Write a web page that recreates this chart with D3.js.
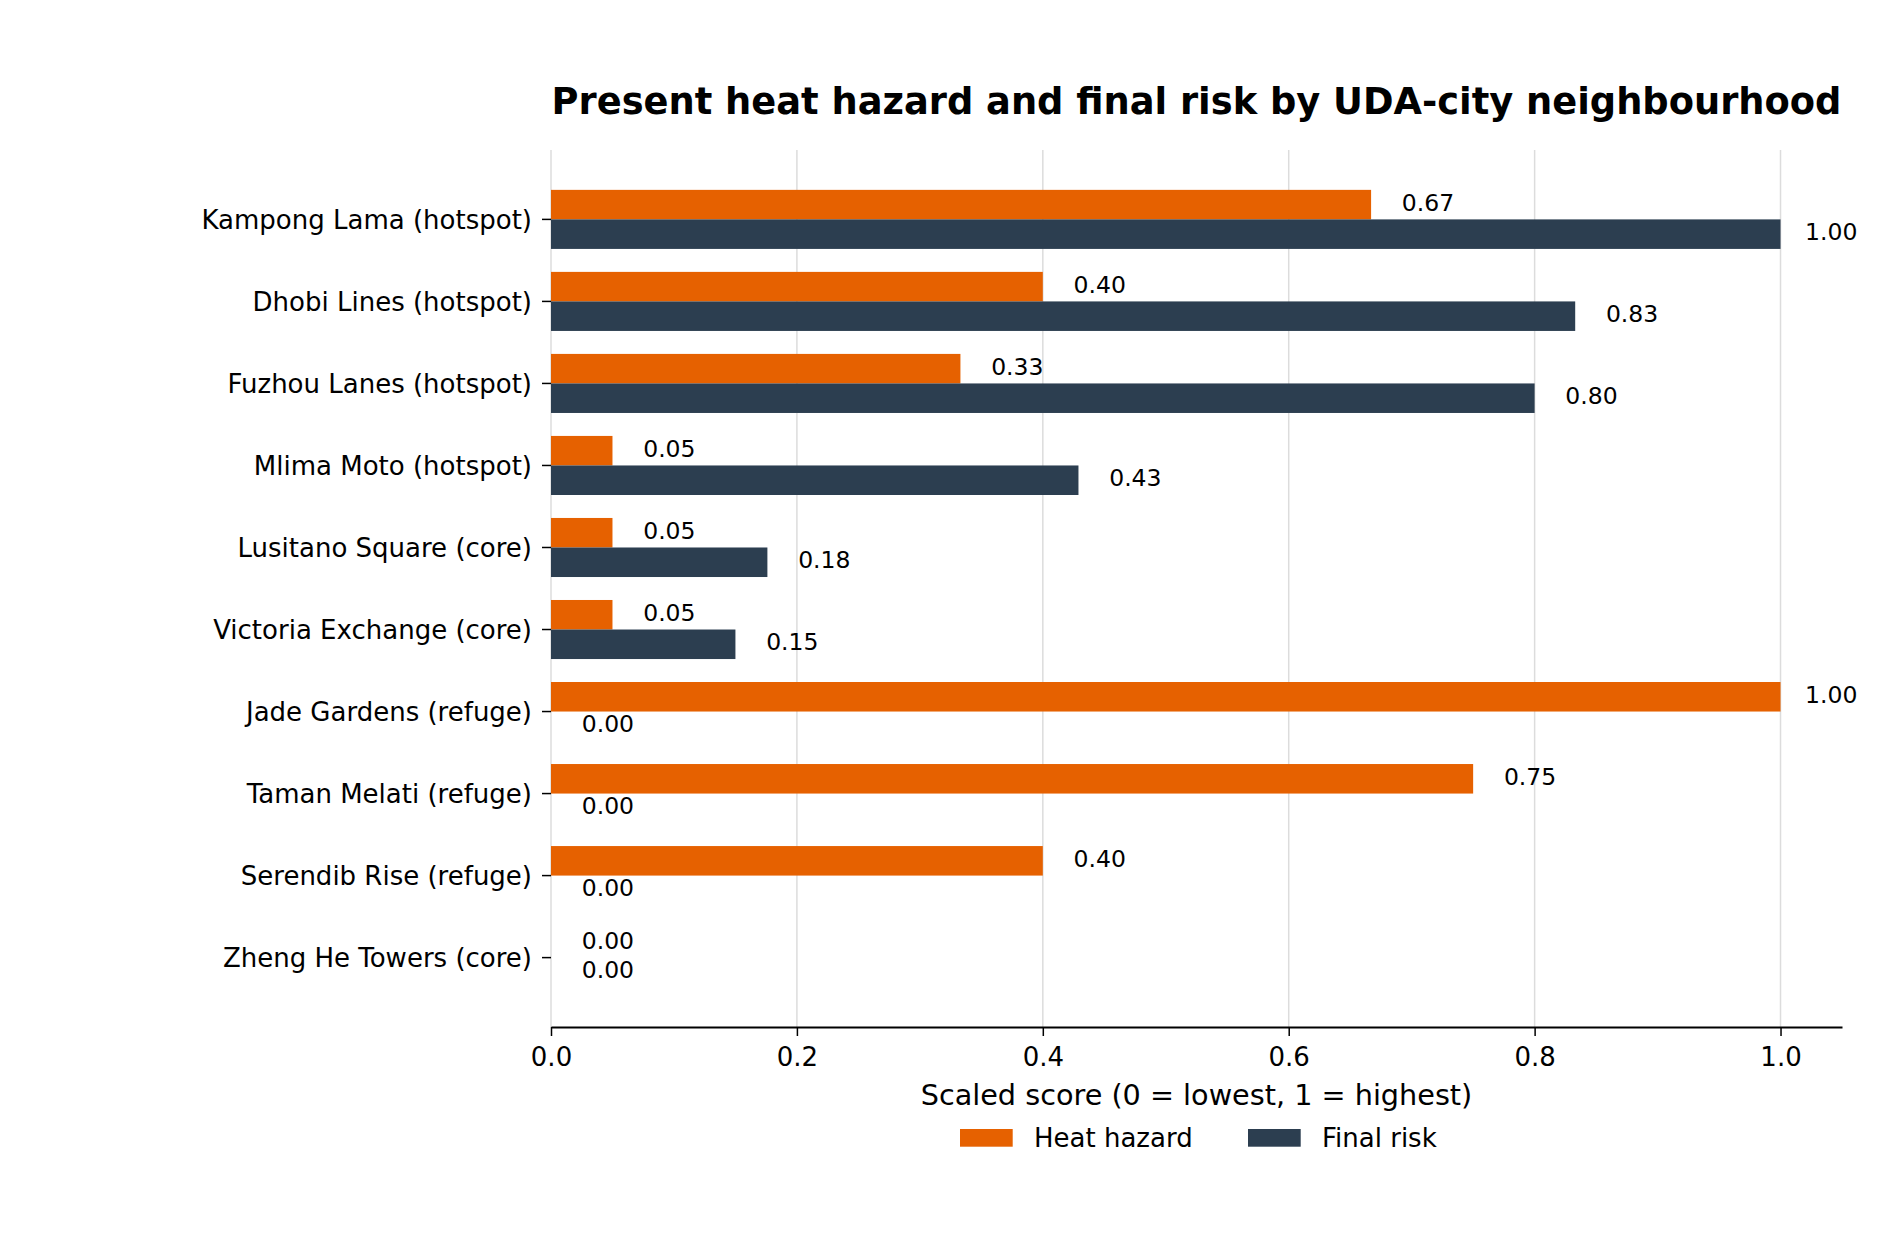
<!DOCTYPE html>
<html lang="en">
<head>
<meta charset="utf-8">
<title>Present heat hazard and final risk</title>
<script src="https://d3js.org/d3.v7.min.js"></script>
<style>
  body { margin: 0; background: #fff; }
  svg text { font-family: "DejaVu Sans", sans-serif; fill: #000; }
</style>
</head>
<body>
<div id="chart"></div>
<script>
// data
var neighbourhoods = [
  "Kampong Lama (hotspot)", "Dhobi Lines (hotspot)", "Fuzhou Lanes (hotspot)",
  "Mlima Moto (hotspot)", "Lusitano Square (core)", "Victoria Exchange (core)",
  "Jade Gardens (refuge)", "Taman Melati (refuge)", "Serendib Rise (refuge)",
  "Zheng He Towers (core)"
];
var heatHazard = [0.667, 0.40, 0.333, 0.05, 0.05, 0.05, 1.00, 0.75, 0.40, 0.00];
var finalRisk  = [1.00, 0.833, 0.80, 0.429, 0.176, 0.15, 0.00, 0.00, 0.00, 0.00];
var seriesNames = ["Heat hazard", "Final risk"];
var seriesColors = ["#e66100", "#2c3e50"];
var xTicks = [0, 0.2, 0.4, 0.6, 0.8, 1.0];

var W = 1900, H = 1254;
var margin = {top: 150, right: 58, bottom: 227, left: 551};
var width = W - margin.left - margin.right,
    height = H - margin.top - margin.bottom;

var svg = d3.select("#chart").append("svg")
    .attr("width", W).attr("height", H);

var g = svg.append("g")
    .attr("transform", "translate(" + margin.left + "," + margin.top + ")");

var x = d3.scaleLinear().domain([0, 1.05]).range([0, width]);
var y = d3.scaleBand().domain(neighbourhoods).range([0, height])
    .paddingInner(0.28).paddingOuter(0.486);
var ySub = d3.scaleBand().domain(seriesNames).range([0, y.bandwidth()]);

// gridlines
g.append("g").selectAll("line")
  .data(xTicks).enter().append("line")
    .attr("x1", function(d){ return x(d); })
    .attr("x2", function(d){ return x(d); })
    .attr("y1", 0).attr("y2", height)
    .attr("stroke", "#dcdcdc")
    .attr("stroke-width", 1.5);

// bars
var rows = neighbourhoods.map(function(n, i){
  return {name: n, values: [heatHazard[i], finalRisk[i]]};
});

var row = g.append("g").selectAll("g")
  .data(rows).enter().append("g")
    .attr("transform", function(d){ return "translate(0," + y(d.name) + ")"; });

row.selectAll("rect")
  .data(function(d){ return d.values.map(function(v, j){ return {s: seriesNames[j], v: v, c: seriesColors[j]}; }); })
  .enter().append("rect")
    .attr("x", x(0))
    .attr("y", function(d){ return ySub(d.s); })
    .attr("width", function(d){ return x(d.v) - x(0); })
    .attr("height", ySub.bandwidth())
    .attr("fill", function(d){ return d.c; });

// value labels, kept inside the axis range
row.selectAll("text")
  .data(function(d){ return d.values.map(function(v, j){ return {s: seriesNames[j], v: v}; }); })
  .enter().append("text")
    .attr("x", function(d){ return x(Math.min(d.v + 0.025, 1.02)); })
    .attr("y", function(d){ return ySub(d.s) + ySub.bandwidth() / 2 + 6; })
    .style("font-size", "23.5px")
    .text(function(d){ return d3.format(".2f")(d.v); });

// x axis
var xAxis = g.append("g")
  .attr("transform", "translate(0," + height + ")")
  .call(d3.axisBottom(x).tickValues(xTicks).tickFormat(d3.format(".1f"))
        .tickSize(9).tickSizeOuter(0));
xAxis.select(".domain").attr("stroke", "#000").attr("stroke-width", 2);
xAxis.selectAll(".tick line").attr("stroke", "#000").attr("stroke-width", 1.5);
xAxis.selectAll(".tick text")
  .attr("y", 39.4).attr("dy", null)
  .style("font-size", "26px").style("font-family", "DejaVu Sans");

// y axis
var yAxis = g.append("g")
  .call(d3.axisLeft(y).tickSize(9).tickPadding(10));
yAxis.select(".domain").remove();
yAxis.selectAll(".tick line").attr("stroke", "#000").attr("stroke-width", 1.5);
yAxis.selectAll(".tick text")
  .attr("dy", "0.36em")
  .style("font-size", "26px").style("font-family", "DejaVu Sans");

// title
svg.append("text")
  .attr("x", margin.left + width / 2)
  .attr("y", 113.7)
  .attr("text-anchor", "middle")
  .style("font-size", "36.8px")
  .style("font-weight", "bold")
  .text("Present heat hazard and final risk by UDA-city neighbourhood");

// x label
svg.append("text")
  .attr("x", margin.left + width / 2)
  .attr("y", 1105)
  .attr("text-anchor", "middle")
  .style("font-size", "28.7px")
  .text("Scaled score (0 = lowest, 1 = highest)");

// legend
var legend = svg.append("g").attr("transform", "translate(960,1129)");
var legendX = [0, 288];
seriesNames.forEach(function(s, i){
  legend.append("rect")
    .attr("x", legendX[i]).attr("y", 0)
    .attr("width", 52.7).attr("height", 17.7)
    .attr("fill", seriesColors[i]);
  legend.append("text")
    .attr("x", legendX[i] + 74).attr("y", 17.7)
    .style("font-size", "26px")
    .text(s);
});
</script>
</body>
</html>
